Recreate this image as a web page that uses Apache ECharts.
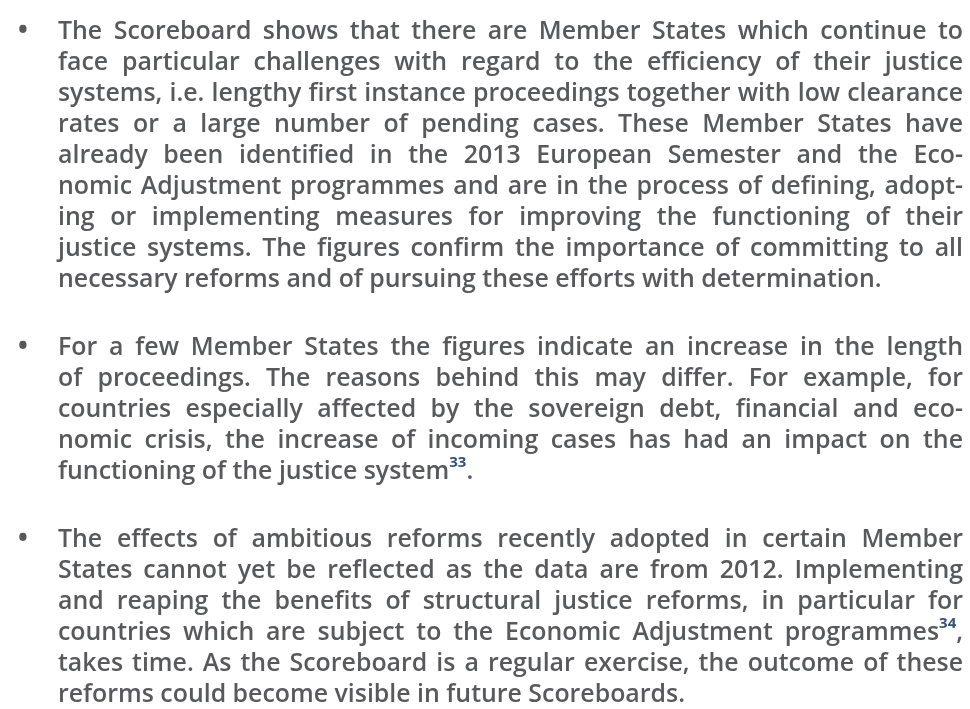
<!DOCTYPE html>
<html>
  <head>
    <meta charset="utf-8" />
    <title>Scoreboard text</title>
    <script src="https://cdn.jsdelivr.net/npm/echarts@6/dist/echarts.min.js"></script>
    <style>
      body { margin: 0; background: #ffffff; }
      #main { width: 970px; height: 709px; }
    </style>
  </head>
  <body>
    <div id="main"></div>
    <script type="text/javascript">
// lines of each paragraph, as broken in the picture ("^33" marks a footnote number)
const para1 = [
  'The Scoreboard shows that there are Member States which continue to',
  'face particular challenges with regard to the efficiency of their justice',
  'systems, i.e. lengthy first instance proceedings together with low clearance',
  'rates or a large number of pending cases. These Member States have',
  'already been identified in the 2013 European Semester and the Eco-',
  'nomic Adjustment programmes and are in the process of defining, adopt-',
  'ing or implementing measures for improving the functioning of their',
  'justice systems. The figures confirm the importance of committing to all',
  'necessary reforms and of pursuing these efforts with determination.'
];
const para2 = [
  'For a few Member States the figures indicate an increase in the length',
  'of proceedings. The reasons behind this may differ. For example, for',
  'countries especially affected by the sovereign debt, financial and eco-',
  'nomic crisis, the increase of incoming cases has had an impact on the',
  'functioning of the justice system^33.'
];
const para3 = [
  'The effects of ambitious reforms recently adopted in certain Member',
  'States cannot yet be reflected as the data are from 2012. Implementing',
  'and reaping the benefits of structural justice reforms, in particular for',
  'countries which are subject to the Economic Adjustment programmes^34,',
  'takes time. As the Scoreboard is a regular exercise, the outcome of these',
  'reforms could become visible in future Scoreboards.'
];

const paragraphs = [para1, para2, para3];
const firstY = 32;
const lineH = 31;
const paraGap = 68;
const textLeft = 58, textRight = 963, bulletX = 18;
const family = '"Open Sans"';
const weight = 600;
const supColor = '#34507f';
const textColor = '#58595b';

var ctx = document.createElement('canvas').getContext('2d');
function measure(str, size, w) {
  ctx.font = (w || weight) + ' ' + size + 'px ' + family;
  return ctx.measureText(str).width;
}

// pick the font size so the widest line just fits the column
var widest = 0;
paragraphs.forEach(function (lines) {
  lines.forEach(function (l) { widest = Math.max(widest, measure(l.replace(/\^\d+/, ''), 20)); });
});
const fontSize = Math.floor(20 * (textRight - textLeft) / widest * 10) / 10 - 0.1;
const supSize = Math.round(fontSize * 0.62);

function parseWord(w) {
  var m = w.match(/^(.*?)\^(\d+)(.*)$/);
  if (!m) return [{ t: w, sup: false }];
  return [{ t: m[1], sup: false }, { t: m[2], sup: true }, { t: m[3], sup: false }];
}

function txt(str, x, y, sup) {
  return {
    type: 'text',
    x: x,
    y: sup ? y - fontSize * 0.36 : y,
    style: {
      text: str,
      fontSize: sup ? supSize : fontSize,
      fontFamily: family,
      fontWeight: sup ? 700 : weight,
      fill: sup ? supColor : textColor,
      verticalAlign: 'middle'
    }
  };
}

var elements = [];
var curY = firstY;
paragraphs.forEach(function (lines, p) {
  elements.push({
    type: 'text', x: bulletX, y: curY,
    style: { text: '•', fontSize: 26, fontWeight: 700, fontFamily: family, fill: textColor, verticalAlign: 'middle' }
  });
  lines.forEach(function (line, i) {
    var y = curY + i * lineH;
    var words = line.split(' ').map(function (w) {
      var parts = parseWord(w);
      var width = 0;
      parts.forEach(function (pt) {
        pt.w = measure(pt.t, pt.sup ? supSize : fontSize, pt.sup ? 700 : weight);
        width += pt.w;
      });
      return { parts: parts, w: width };
    });
    var total = words.reduce(function (s, w) { return s + w.w; }, 0);
    var last = i === lines.length - 1;
    var gap = last || words.length < 2
      ? measure(' ', fontSize)
      : (textRight - textLeft - total) / (words.length - 1);
    var x = textLeft;
    words.forEach(function (w) {
      var px = x;
      w.parts.forEach(function (pt) {
        if (pt.t) elements.push(txt(pt.t, px, y, pt.sup));
        px += pt.w;
      });
      x += w.w + gap;
    });
  });
  curY += (lines.length - 1) * lineH + paraGap;
});

var chart = echarts.init(document.getElementById('main'));
chart.setOption({
  backgroundColor: '#ffffff',
  animation: false,
  graphic: { elements: elements }
});
    </script>
  </body>
</html>
